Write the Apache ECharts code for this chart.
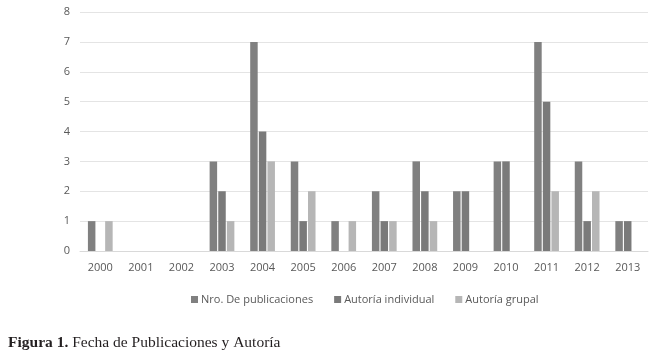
<!DOCTYPE html>
<html>
<head>
<meta charset="utf-8">
<script src="https://cdn.jsdelivr.net/npm/echarts@6/dist/echarts.min.js"></script>
<style>
  html, body { margin: 0; padding: 0; background: #fff; }
  #chart { width: 655px; height: 353px; }
</style>
</head>
<body>
<div id="chart"></div>
<script>
// categories and series values
const years = ['2000', '2001', '2002', '2003', '2004', '2005', '2006', '2007', '2008', '2009', '2010', '2011', '2012', '2013'];
const nroPublicaciones = [1, 0, 0, 3, 7, 3, 1, 2, 3, 2, 3, 7, 3, 1];
const autoriaIndividual = [0, 0, 0, 2, 4, 1, 0, 1, 2, 2, 3, 5, 1, 1];
const autoriaGrupal = [1, 0, 0, 1, 3, 2, 1, 1, 1, 0, 0, 2, 2, 0];

const myChart = echarts.init(document.getElementById('chart'));
const labelFont = 'Open Sans, Noto Sans, sans-serif';

const option = {
  animation: false,
  color: ['#808080', '#7a7a7a', '#b6b6b6'],
  title: {
    left: 3,
    top: 330,
    text: '{b|Figura 1.} Fecha de Publicaciones y Autoría',
    textStyle: {
      fontFamily: 'Liberation Serif, DejaVu Serif, serif',
      fontSize: 15.5,
      fontWeight: 'normal',
      color: '#231f20',
      rich: {
        b: {
          fontFamily: 'Liberation Serif, DejaVu Serif, serif',
          fontSize: 15.5,
          fontWeight: 'bold',
          color: '#231f20'
        }
      }
    }
  },
  legend: {
    left: 186,
    top: 289,
    icon: 'rect',
    itemWidth: 7,
    itemHeight: 7,
    itemGap: 21,
    textStyle: {
      fontFamily: labelFont,
      fontSize: 11,
      color: '#595959',
      padding: [0, 0, 0, -2]
    }
  },
  grid: {
    left: 80,
    right: 7,
    top: 12,
    bottom: 102
  },
  xAxis: {
    type: 'category',
    data: years,
    axisTick: { show: false },
    axisLine: { lineStyle: { color: '#d9d9d9', width: 1 } },
    axisLabel: {
      fontFamily: labelFont,
      fontSize: 11,
      color: '#595959',
      margin: 11
    }
  },
  yAxis: {
    type: 'value',
    min: 0,
    max: 8,
    interval: 1,
    axisLine: { show: false },
    axisTick: { show: false },
    axisLabel: {
      fontFamily: labelFont,
      fontSize: 11,
      color: '#595959',
      margin: 10
    },
    splitLine: { lineStyle: { color: '#e4e4e4', width: 1 } }
  },
  series: [
    { name: 'Nro. De publicaciones', type: 'bar', data: nroPublicaciones, barWidth: 7.5, barGap: '15%' },
    { name: 'Autoría individual', type: 'bar', data: autoriaIndividual, barWidth: 7.5, barGap: '15%' },
    { name: 'Autoría grupal', type: 'bar', data: autoriaGrupal, barWidth: 7.5, barGap: '15%' }
  ]
};

myChart.setOption(option);
window.onresize = myChart.resize;
</script>
</body>
</html>
